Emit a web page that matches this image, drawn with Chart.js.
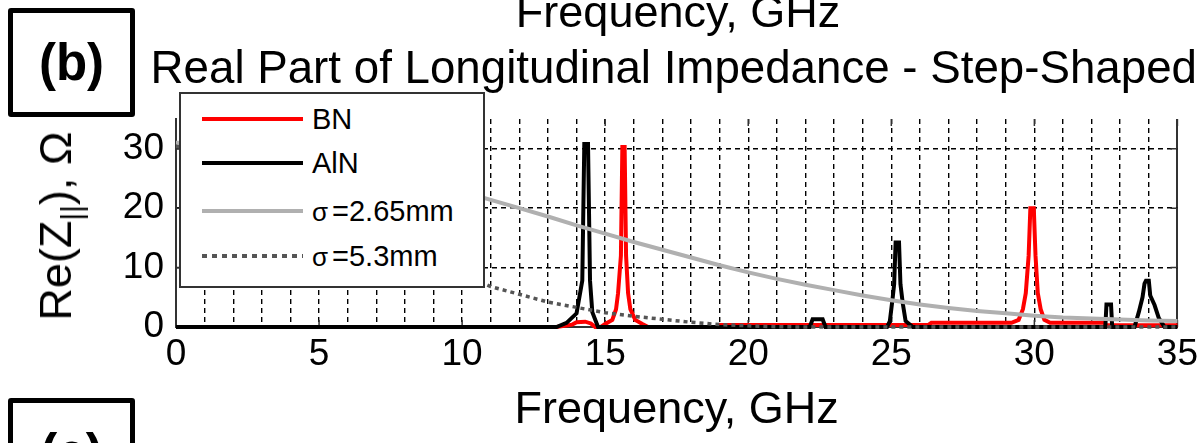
<!DOCTYPE html>
<html>
<head>
<meta charset="utf-8">
<script src="https://cdn.jsdelivr.net/npm/chart.js@4.4.1/dist/chart.umd.min.js"></script>
<style>
  html, body { margin: 0; padding: 0; background: #fff; }
  #wrap { position: relative; width: 1204px; height: 443px; overflow: hidden; background: #fff;
          font-family: 'Liberation Sans', Arial, sans-serif; color: #000; }
  #chart { position: absolute; left: 0; top: 0; }
  .tag { position: absolute; left: 8px; box-sizing: border-box; width: 127px; height: 109px;
         border: 5px solid #000; border-radius: 3px; background: #fff;
         display: flex; align-items: center; justify-content: center;
         font-weight: bold; font-size: 51px; }
  .prev-title { position: absolute; left: 176px; width: 1004px; top: -11px; text-align: center;
                font-size: 45px; line-height: 45px; }
  #ylabel { position: absolute; left: 56px; top: 226px; transform: translate(-50%, -50%) rotate(-90deg);
            font-size: 45px; line-height: 52px; white-space: nowrap; }
  #ylabel sub { font-size: 30px; vertical-align: -11px; line-height: 0; }
  #legend { position: absolute; left: 179px; top: 92px; width: 306px; height: 196px; box-sizing: border-box;
            border: 2px solid #333; background: #fff; }
  .lg-row { position: absolute; left: 0; width: 100%; height: 40px; }
  .lg-line { position: absolute; left: 21px; width: 101px; top: 18px; height: 4px; }
  .lg-text { position: absolute; left: 131px; top: 0; line-height: 40px; font-size: 29px; white-space: nowrap; }
  .lg-text .sym { font-size: 26px; margin-right: 4px; }
</style>
</head>
<body>
<div id="wrap">
  <canvas id="chart" width="1204" height="443"></canvas>
  <div class="prev-title">Frequency, GHz</div>
  <div class="tag" style="top:8px">(b)</div>
  <div class="tag" style="top:398px">(c)</div>
  <div id="ylabel">Re(Z<sub>||</sub>), Ω</div>
  <div id="legend"></div>
</div>
<script>
/* Real part of longitudinal impedance, step-shaped insert */
const TITLE = 'Real Part of Longitudinal Impedance - Step-Shaped';
const X_TITLE = 'Frequency, GHz';
const X_TICKS = [0, 5, 10, 15, 20, 25, 30, 35];
const Y_TICKS = [0, 10, 20, 30];
const SERIES_NAMES = ['BN', 'AlN', 'σ=2.65mm', 'σ=5.3mm'];

// BN (red)
const bnFreq = [0, 13.3, 13.85, 14.0, 14.3, 14.5, 14.65, 14.85, 15.0, 15.25, 15.38, 15.45, 15.55, 15.6, 15.68, 15.73,
  15.8, 15.88, 16.05, 16.3, 16.5, 18.95, 19.0, 26.3, 26.4, 29.2, 29.45, 29.6, 29.7, 29.8, 29.86, 29.98, 30.04,
  30.12, 30.22, 30.35, 30.55, 32.45, 32.5, 35];
const bnRe = [0, 0, 0.4, 0.8, 0.9, 0.6, 0, 0, 0.5, 1.2, 3, 5.7, 12, 30.3, 30.3, 12,
  5.7, 3, 1.2, 0.5, 0, 0, 0.35, 0.35, 0.7, 0.7, 1.2, 3, 5.7, 12, 20, 20, 12,
  5.7, 3, 1.2, 0.7, 0.7, 0.3, 0.3];

// AlN (black)
const alnFreq = [0, 13.3, 13.65, 14.0, 14.2, 14.27, 14.4, 14.47, 14.55, 14.75, 22.15, 22.25, 22.6, 22.7,
  24.85, 24.95, 25.05, 25.1, 25.15, 25.27, 25.32, 25.4, 25.5, 25.75, 32.48, 32.52, 32.68, 32.72,
  33.5, 33.65, 33.78, 33.85, 33.9, 34.0, 34.05, 34.2, 34.35, 34.55, 35];
const alnRe = [0, 0, 0.7, 2.3, 7.8, 30.8, 30.8, 7.8, 2.5, 0, 0, 1.3, 1.3, 0,
  0, 1, 5, 7.2, 14.2, 14.2, 7.2, 4, 1, 0, 0, 3.8, 3.8, 0,
  0, 2.5, 5, 7.3, 7.8, 7.8, 5.3, 3.7, 1.5, 0, 0];

// Gaussian bunch spectra
const bunchFreq = [0, 1, 2, 3, 4, 5, 6, 7, 8, 9, 10, 11, 12, 13, 14, 15, 16, 17, 18, 19, 20,
  21, 22, 23, 24, 25, 26, 27, 28, 29, 30, 31, 32, 33, 34, 35];
const sigma265Re = [31.0, 30.9, 30.6, 30.2, 29.5, 28.7, 27.7, 26.6, 25.4, 24.1, 22.8, 21.4, 20.0, 18.6, 17.1,
  15.7, 14.3, 13.0, 11.7, 10.4, 9.2, 8.1, 7.1, 6.2, 5.3, 4.5, 3.8, 3.2, 2.7, 2.3, 1.9, 1.6, 1.45, 1.25, 1.1, 1.0];
const sigma53Re = [30.4, 30.0, 28.9, 27.2, 24.9, 22.3, 19.5, 16.6, 13.8, 11.2, 8.9, 6.8, 5.5, 4.2, 3.3,
  2.4, 1.8, 1.3, 0.8, 0.4, 0.2, 0.05, 0, 0, 0, 0, 0, 0, 0, 0, 0, 0, 0, 0, 0, 0];

const FONT = "'Liberation Sans', Arial, sans-serif";
const pts = (xs, ys) => xs.map((x, i) => ({ x, y: ys[i] }));

const STYLES = [
  { color: '#ff0000', width: 4, dash: [] },
  { color: '#000000', width: 4, dash: [] },
  { color: '#b0b0b0', width: 4, dash: [] },
  { color: '#555555', width: 3.5, dash: [4, 4] },
];

// frame lines (0 and 35) solid, inner grid dashed
const isEdge = c => c.tick && (c.tick.value === 0 || c.tick.value === 35);
const gridDash = c => (isEdge(c) ? [] : [5, 4]);
const gridColor = c => (isEdge(c) ? '#333' : '#000');
const gridWidth = c => (isEdge(c) ? 2 : 1.4);

function buildLegend() {
  const box = document.getElementById('legend');
  const centers = [25, 69, 117, 162];
  SERIES_NAMES.forEach((name, i) => {
    const st = STYLES[i];
    const row = document.createElement('div');
    row.className = 'lg-row';
    row.style.top = (centers[i] - 20) + 'px';
    const line = document.createElement('div');
    line.className = 'lg-line';
    line.style.background = st.dash.length
      ? `repeating-linear-gradient(to right, ${st.color} 0 5px, transparent 5px 10px)`
      : st.color;
    const text = document.createElement('div');
    text.className = 'lg-text';
    text.innerHTML = name.replace('σ', '<span class="sym">σ</span>');
    row.appendChild(line);
    row.appendChild(text);
    box.appendChild(row);
  });
}

const insideTicks = {
  id: 'insideTicks',
  beforeDatasetsDraw(chart) {
    const { ctx, chartArea: a, scales: { x, y } } = chart;
    ctx.save();
    ctx.strokeStyle = '#333';
    ctx.lineWidth = 1.5;
    ctx.beginPath();
    for (const v of X_TICKS) {
      const px = x.getPixelForValue(v);
      ctx.moveTo(px, a.bottom); ctx.lineTo(px, a.bottom - 7);
      ctx.moveTo(px, a.top); ctx.lineTo(px, a.top + 7);
    }
    for (const t of y.ticks) {
      const py = y.getPixelForValue(t.value);
      ctx.moveTo(a.left, py); ctx.lineTo(a.left + 7, py);
      ctx.moveTo(a.right, py); ctx.lineTo(a.right - 7, py);
    }
    ctx.stroke();
    ctx.restore();
  },
};

const seriesData = [pts(bnFreq, bnRe), pts(alnFreq, alnRe), pts(bunchFreq, sigma265Re), pts(bunchFreq, sigma53Re)];
// drawing order: dotted on top, then grey, black, red underneath
const drawOrder = [3, 2, 1, 0];

const datasets = SERIES_NAMES.map((name, i) => ({
  label: name,
  data: seriesData[i],
  borderColor: STYLES[i].color,
  backgroundColor: STYLES[i].color,
  borderWidth: STYLES[i].width,
  borderDash: STYLES[i].dash,
  borderCapStyle: 'butt',
  pointRadius: 0,
  tension: 0,
  fill: false,
  clip: 6,
  order: drawOrder[i],
}));

buildLegend();

new Chart(document.getElementById('chart'), {
  type: 'line',
  data: { datasets },
  options: {
    responsive: false,
    animation: false,
    events: [],
    layout: { padding: { left: 0, right: 7, top: 0, bottom: 0 } },
    plugins: {
      legend: { display: false },
      tooltip: { enabled: false },
      title: {
        display: true,
        text: TITLE,
        align: 'end',
        color: '#000',
        font: { family: FONT, size: 45.7, weight: 'normal', lineHeight: 1.2 },
        padding: { top: 43, bottom: 21.16 },
      },
    },
    scales: {
      x: {
        type: 'linear',
        min: 0,
        max: 35,
        afterFit: s => { s.height = 116; },
        ticks: {
          stepSize: 1,
          maxTicksLimit: 100,
          autoSkip: false,
          maxRotation: 0,
          padding: 6,
          color: '#000',
          font: { family: FONT, size: 37 },
          callback: v => (X_TICKS.includes(v) ? String(v) : ''),
        },
        grid: { color: gridColor, lineWidth: gridWidth, drawTicks: false },
        border: { display: true, color: '#333', width: 2, dash: gridDash },
        title: {
          display: true,
          text: X_TITLE,
          color: '#000',
          font: { family: FONT, size: 45 },
          padding: { top: 0, bottom: 5 },
        },
      },
      y: {
        type: 'linear',
        min: 0,
        max: 35,
        afterFit: s => { s.width = 176; },
        ticks: {
          stepSize: 5,
          maxTicksLimit: 100,
          padding: 12,
          color: '#000',
          font: { family: FONT, size: 37 },
          callback: v => (Y_TICKS.includes(v) ? String(v) : ''),
        },
        grid: { color: gridColor, lineWidth: gridWidth, drawTicks: false },
        border: { display: true, color: '#333', width: 2, dash: gridDash },
      },
      // empty right axis, only reserves the margin right of the plot
      yRight: {
        type: 'linear',
        position: 'right',
        min: 0,
        max: 35,
        afterFit: s => { s.width = 17; },
        ticks: { display: false },
        grid: { display: false, drawOnChartArea: false, drawTicks: false },
        border: { display: false },
      },
    },
  },
  plugins: [insideTicks],
});
</script>
</body>
</html>
